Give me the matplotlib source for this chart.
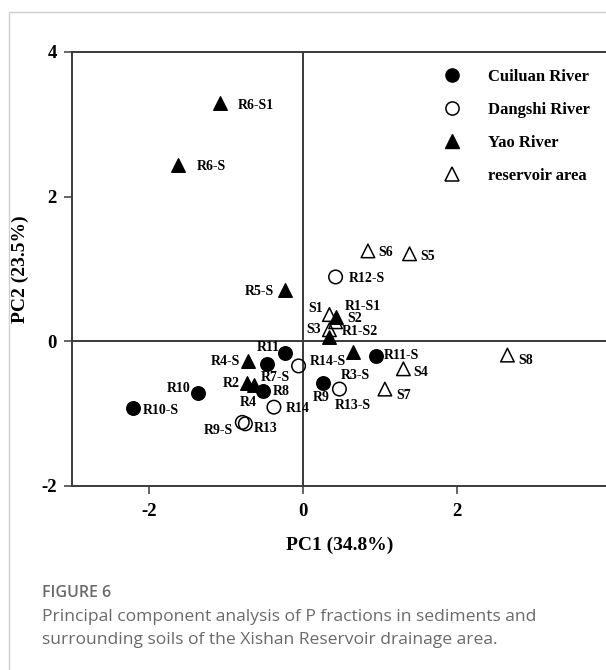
import matplotlib.pyplot as plt
from matplotlib.lines import Line2D
from matplotlib.patches import Rectangle

# PCA scores
cuiluan_names = ['R10-S', 'R10', 'R11', 'R7-S', 'R8', 'R9', 'R11-S']
cuiluan_pc1 = [-2.21, -1.36, -0.23, -0.47, -0.52, 0.26, 0.94]
cuiluan_pc2 = [-0.92, -0.72, -0.16, -0.32, -0.68, -0.57, -0.20]

dangshi_names = ['R12-S', 'R14-S', 'R14', 'R13', 'R9-S', 'R13-S']
dangshi_pc1 = [0.42, -0.06, -0.38, -0.75, -0.79, 0.47]
dangshi_pc2 = [0.89, -0.34, -0.91, -1.14, -1.12, -0.66]

yao_names = ['R6-S1', 'R6-S', 'R5-S', 'R1-S1', 'R1-S2', 'R3-S', 'R4-S', 'R2', 'R4']
yao_pc1 = [-1.08, -1.62, -0.23, 0.42, 0.34, 0.64, -0.71, -0.73, -0.64]
yao_pc2 = [3.29, 2.44, 0.71, 0.34, 0.06, -0.15, -0.27, -0.58, -0.60]

reservoir_names = ['S1', 'S2', 'S3', 'S4', 'S5', 'S6', 'S7', 'S8']
reservoir_pc1 = [0.34, 0.42, 0.34, 1.30, 1.38, 0.84, 1.06, 2.65]
reservoir_pc2 = [0.37, 0.27, 0.16, -0.38, 1.21, 1.25, -0.66, -0.19]

# label offsets in pixels (dx, dy, ha)
offsets = {
    'R10-S': (10, -3, 'left'), 'R10': (-8, 5, 'right'), 'R11': (-6, 5, 'right'),
    'R7-S': (-6, -13, 'left'), 'R8': (10, -1, 'left'), 'R9': (-10, -15, 'left'),
    'R11-S': (8, 0, 'left'), 'R12-S': (13, -2, 'left'), 'R14-S': (11, 4, 'left'),
    'R14': (12, -1, 'left'), 'R13': (8, -5, 'left'), 'R9-S': (-9, -8, 'right'),
    'R13-S': (-5, -16, 'left'), 'R6-S1': (18, -2, 'left'), 'R6-S': (18, -2, 'left'),
    'R5-S': (-11, -2, 'right'), 'R1-S1': (9, 10, 'left'), 'R1-S2': (12, 5, 'left'),
    'R3-S': (-12, -23, 'left'), 'R4-S': (-8, -1, 'right'), 'R2': (-7, 0, 'right'),
    'R4': (-6, -18, 'center'), 'S1': (-6, 6, 'right'), 'S2': (12, 3, 'left'),
    'S3': (-8, 0, 'right'), 'S4': (10, -4, 'left'), 'S5': (11, -3, 'left'),
    'S6': (10, -2, 'left'), 'S7': (11, -6, 'left'), 'S8': (11, -5, 'left'),
}

plt.rcParams['axes.unicode_minus'] = False
serif = 'Liberation Serif'
line_col = '#3a3a3a'

fig = plt.figure(figsize=(6.06, 6.70), dpi=100)
W, H = 606, 670

# light grey page frame
fig.patches.append(Rectangle((9 / W, -0.1), 1.2, 1.1 - 12 / H, transform=fig.transFigure,
                             fill=False, edgecolor='#cfcfcf', linewidth=1.0))

x_left, x_right = 72, 650
y_top, y_bot = 52, 486
ax = fig.add_axes([x_left / W, 1 - y_bot / H, (x_right - x_left) / W, (y_bot - y_top) / H])
ax.set_xlim(-3, 4.5)
ax.set_ylim(-2, 4)

for s in ['top', 'left', 'bottom']:
    ax.spines[s].set_color(line_col)
    ax.spines[s].set_linewidth(1.4)
ax.spines['right'].set_visible(False)
ax.axhline(0, color=line_col, linewidth=1.4, zorder=1)
ax.axvline(0, color=line_col, linewidth=1.4, zorder=1)

ax.set_xticks([-2, 0, 2, 4])
ax.set_yticks([-2, 0, 2, 4])
ax.tick_params(direction='out', length=6, width=1.1, color=line_col, labelsize=13.5)
ax.tick_params(axis='x', pad=6)
ax.tick_params(axis='y', pad=5)
for t in ax.get_xticklabels() + ax.get_yticklabels():
    t.set_fontfamily(serif)
    t.set_fontweight('bold')

ms = 95
ax.scatter(reservoir_pc1, reservoir_pc2, marker='^', s=ms, facecolors='none',
           edgecolors='black', linewidths=1.1, zorder=3)
ax.scatter(dangshi_pc1, dangshi_pc2, marker='o', s=ms, facecolors='none',
           edgecolors='black', linewidths=1.1, zorder=3)
ax.scatter(cuiluan_pc1, cuiluan_pc2, marker='o', s=ms, color='black', zorder=4)
ax.scatter(yao_pc1, yao_pc2, marker='^', s=ms, color='black', zorder=4)

# point labels
for names, xs, ys in [(cuiluan_names, cuiluan_pc1, cuiluan_pc2),
                      (dangshi_names, dangshi_pc1, dangshi_pc2),
                      (yao_names, yao_pc1, yao_pc2),
                      (reservoir_names, reservoir_pc1, reservoir_pc2)]:
    for n, x, y in zip(names, xs, ys):
        dx, dy, ha = offsets[n]
        ax.annotate(n, (x, y), xytext=(dx, dy), textcoords='offset pixels',
                    ha=ha, va='center', fontsize=10, fontweight='bold',
                    fontfamily=serif, zorder=5)

# legend
handles = [
    Line2D([], [], marker='o', linestyle='none', color='black', markersize=9.5),
    Line2D([], [], marker='o', linestyle='none', markerfacecolor='none',
           markeredgecolor='black', markeredgewidth=1.1, markersize=9.5),
    Line2D([], [], marker='^', linestyle='none', color='black', markersize=9.5),
    Line2D([], [], marker='^', linestyle='none', markerfacecolor='none',
           markeredgecolor='black', markeredgewidth=1.1, markersize=9.5),
]
labels = ['Cuiluan River', 'Dangshi River', 'Yao River', 'reservoir area']
fig.legend(handles, labels, loc='upper left', bbox_to_anchor=(443.7 / W, 1 - 69 / H),
           frameon=False, handlelength=1.0, handletextpad=1.66, labelspacing=1.02,
           borderpad=0, borderaxespad=0,
           prop={'family': serif, 'weight': 'bold', 'size': 12})

# axis titles
fig.text(340 / W, 1 - 545 / H, 'PC1 (34.8%)', ha='center', va='center',
         fontsize=14, fontweight='bold', fontfamily=serif)
fig.text(20 / W, 1 - 269 / H, 'PC2 (23.5%)', ha='center', va='center', rotation=90,
         fontsize=14, fontweight='bold', fontfamily=serif)

# caption
cap_col = '#6a6a6a'
fig.text(42 / W, 1 - 593 / H, 'FIGURE 6', ha='left', va='center', fontsize=11.5,
         fontweight='semibold', fontfamily='Open Sans', color=cap_col)
fig.text(42 / W, 1 - 617 / H, 'Principal component analysis of P fractions in sediments and',
         ha='left', va='center', fontsize=12.6, fontfamily='Open Sans', color=cap_col)
fig.text(42 / W, 1 - 640 / H, 'surrounding soils of the Xishan Reservoir drainage area.',
         ha='left', va='center', fontsize=12.6, fontfamily='Open Sans', color=cap_col)

fig.savefig('out.png', dpi=100)
